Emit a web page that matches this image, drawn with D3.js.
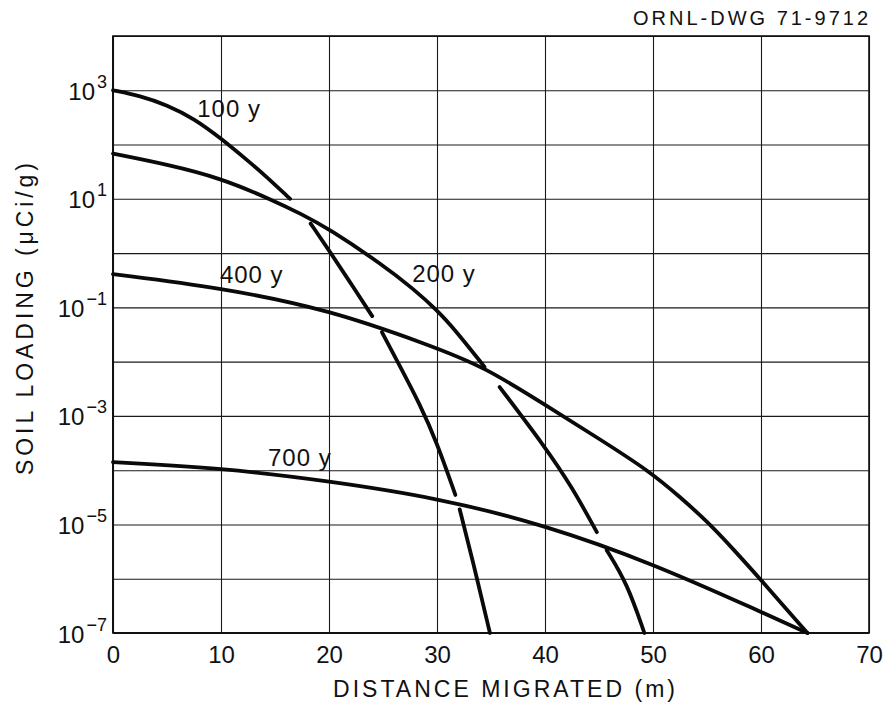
<!DOCTYPE html>
<html><head><meta charset="utf-8">
<script src="https://cdn.jsdelivr.net/npm/d3@7"></script>
<style>
body{margin:0;background:#fff}
text{font-family:"Liberation Sans",Arial,sans-serif;fill:#111}
</style>
</head><body>
<svg id="chart" width="887" height="708"></svg>
<script>
// ---------- data ----------
const xTicks = [0, 10, 20, 30, 40, 50, 60, 70];
const yGridValues = [1e-7, 1e-6, 1e-5, 1e-4, 1e-3, 1e-2, 1e-1, 1e0, 1e1, 1e2, 1e3, 1e4];
const yLabelExponents = [3, 1, -1, -3, -5, -7];

// 100 y : solid part then dashed extension (three dashes)
const curve100Solid = [[0, 1000], [2.5, 794], [5, 537], [7.5, 302], [10, 130], [12.5, 50], [14, 28], [16.4, 10]];
const curve100Dash1 = [[18.3, 3.5], [20.1, 1.05], [22, 0.28], [24, 0.069]];
const curve100Dash2 = [[24.9, 0.035], [26.5, 8.7e-3], [28.4, 1.66e-3], [30, 3.2e-4], [31.7, 3.5e-5]];
const curve100Dash3 = [[32.1, 1.9e-5], [33.3, 2.2e-6], [34.9, 1e-7]];

// 200 y : solid part then dashed extension (two dashes)
const curve200Solid = [[0, 68], [5, 43], [10, 24], [14.5, 10], [17.5, 5.2], [20, 2.8], [25, 0.6], [27.8, 0.22], [30, 0.089], [31.7, 0.038], [34.4, 8e-3]];
const curve200Dash1 = [[35.8, 3.4e-3], [40, 2.7e-4], [42.5, 4.9e-5], [44.8, 7.2e-6]];
const curve200Dash2 = [[45.7, 3.4e-6], [47.6, 8.3e-7], [49.2, 1e-7]];

// 400 y
const curve400 = [[0, 0.41], [10, 0.23], [20, 0.091], [29.35, 0.02], [34.4, 8e-3], [40, 1.6e-3], [45, 3.8e-4], [49.7, 9.5e-5], [52.5, 3.2e-5], [55, 1.15e-5], [57.5, 3.4e-6], [60, 9.5e-7], [64.3, 1e-7]];

// 700 y
const curve700 = [[0, 1.41e-4], [10, 1.1e-4], [20, 6.3e-5], [30, 3.1e-5], [40, 9.8e-6], [50, 1.9e-6], [60, 2.45e-7], [64.3, 1e-7]];

const allCurves = [curve100Solid, curve100Dash1, curve100Dash2, curve100Dash3,
                   curve200Solid, curve200Dash1, curve200Dash2, curve400, curve700];

const curveLabels = ["100 y", "200 y", "400 y", "700 y"];
const curveLabelAnchors = [[7.8, 10 ** 2.5], [27.7, 10 ** -0.54], [9.9, 10 ** -0.55], [14.35, 10 ** -3.92]];

// ---------- layout ----------
const mLeft = 113, mRight = 869, mTop = 36, mBottom = 633;
const svg = d3.select("#chart");

const x = d3.scaleLinear().domain([0, 70]).range([mLeft, mRight]);
const y = d3.scaleLog().domain([1e-7, 1e4]).range([mBottom, mTop]);

// vertical grid + x tick labels
const gx = svg.append("g")
  .attr("transform", `translate(0,${mBottom})`)
  .call(d3.axisBottom(x).tickValues(xTicks).tickSize(-(mBottom - mTop)).tickFormat(d => d));
gx.select(".domain").remove();
gx.selectAll(".tick line").attr("stroke", "#1a1a1a").attr("stroke-width", 1.1);
gx.selectAll(".tick text")
  .attr("y", 30).attr("dy", 0)
  .attr("font-size", 24)
  .attr("fill", "#111")
  .style("font-family", '"Liberation Sans",Arial,sans-serif');

// horizontal grid + y tick labels
const gy = svg.append("g")
  .attr("transform", `translate(${mLeft},0)`)
  .call(d3.axisLeft(y).tickValues(yGridValues).tickSize(-(mRight - mLeft)).tickFormat(""));
gy.select(".domain").remove();
gy.selectAll(".tick line").attr("stroke", "#1a1a1a").attr("stroke-width", 1.1);
gy.selectAll(".tick").each(function (d) {
  const e = Math.round(Math.log10(d));
  if (!yLabelExponents.includes(e)) return;
  const t = d3.select(this).append("text")
    .attr("x", -6).attr("y", 9)
    .attr("text-anchor", "end")
    .attr("fill", "#111")
    .attr("font-size", 24)
    .style("font-family", '"Liberation Sans",Arial,sans-serif');
  t.append("tspan").text("10");
  t.append("tspan").attr("dx", 2).attr("dy", -12).attr("font-size", 18)
    .text(e < 0 ? "\u2212" + Math.abs(e) : String(e));
});

// frame
svg.append("rect")
  .attr("x", mLeft).attr("y", mTop)
  .attr("width", mRight - mLeft).attr("height", mBottom - mTop)
  .attr("fill", "none").attr("stroke", "#111").attr("stroke-width", 1.6);
svg.append("line").attr("x1", mLeft).attr("x2", mLeft).attr("y1", mTop).attr("y2", mBottom)
  .attr("stroke", "#111").attr("stroke-width", 2);
svg.append("line").attr("x1", mLeft).attr("x2", mRight).attr("y1", mBottom).attr("y2", mBottom)
  .attr("stroke", "#111").attr("stroke-width", 2.2);

// curves
const line = d3.line().x(d => x(d[0])).y(d => y(d[1])).curve(d3.curveBasis);
svg.append("g").selectAll("path").data(allCurves).join("path")
  .attr("d", line)
  .attr("fill", "none")
  .attr("stroke", "#0a0a0a")
  .attr("stroke-width", 3.8)
  .attr("stroke-linecap", "round");

// curve labels
svg.append("g").selectAll("text").data(curveLabels).join("text")
  .attr("x", (d, i) => x(curveLabelAnchors[i][0]))
  .attr("y", (d, i) => y(curveLabelAnchors[i][1]))
  .attr("font-size", 24)
  .attr("letter-spacing", 1)
  .text(d => d);

// axis titles
svg.append("text")
  .attr("x", 333).attr("y", 697)
  .attr("font-size", 23)
  .attr("textLength", 342).attr("lengthAdjust", "spacing")
  .text("DISTANCE MIGRATED (m)");

svg.append("text")
  .attr("transform", "translate(33,475) rotate(-90)")
  .attr("x", 0).attr("y", 0)
  .attr("font-size", 23)
  .attr("textLength", 312).attr("lengthAdjust", "spacing")
  .text("SOIL LOADING (\u03BCCi/g)");

// drawing number
svg.append("text")
  .attr("x", 633).attr("y", 25)
  .attr("font-size", 20)
  .attr("textLength", 235).attr("lengthAdjust", "spacing")
  .text("ORNL-DWG 71-9712");
</script>
</body></html>
